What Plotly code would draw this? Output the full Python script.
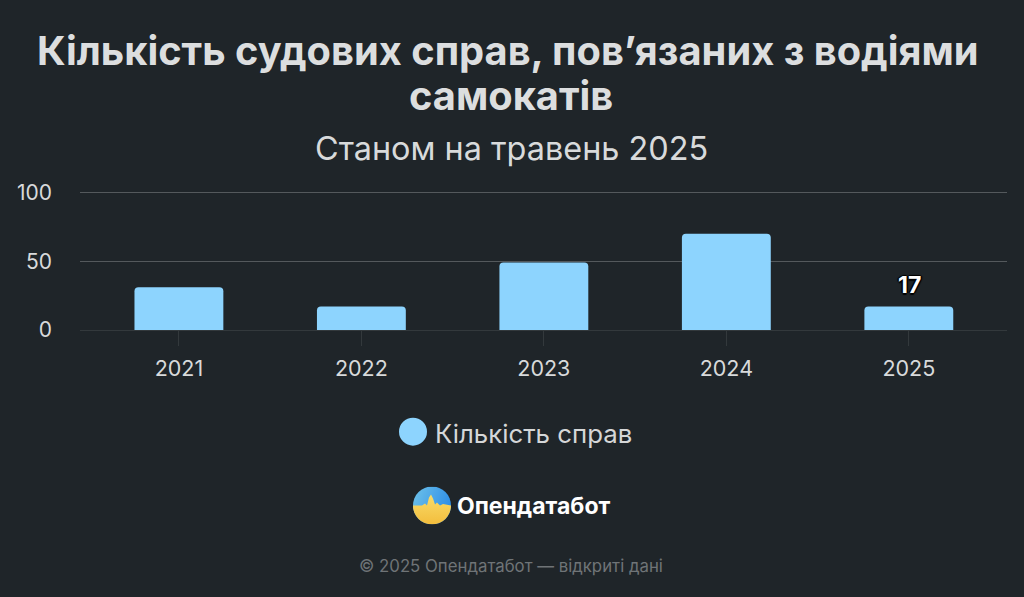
import base64
import plotly.graph_objects as go

years = ["2021", "2022", "2023", "2024", "2025"]
cases = [31, 17, 49, 70, 17]
y_ticks = [0, 50, 100]

title_lines = ["Кількість судових справ, пов’язаних з водіями", "самокатів"]
subtitle = "Станом на травень 2025"
series_name = "Кількість справ"
brand = "Опендатабот"
footer = "© 2025 Опендатабот — відкриті дані"

BG = "#1f2529"
FONT = "Inter"
W, H = 1024, 597
# range goes to 101, the grid line on the very edge of the plot is not drawn
LEFT, RIGHT, TOP, BOTTOM = 80, 1007, 190.6, 330
PLOT_W = RIGHT - LEFT
PLOT_H = BOTTOM - TOP

# logo: blue/yellow circle with a small pulse line
logo_svg = """<svg xmlns="http://www.w3.org/2000/svg" viewBox="0 0 38 38">
<defs>
<linearGradient id="b" x1="0" y1="0" x2="1" y2="0.4"><stop offset="0" stop-color="#6fc3e8"/><stop offset="1" stop-color="#2f8fe8"/></linearGradient>
<linearGradient id="y" x1="0" y1="0" x2="0" y2="1"><stop offset="0" stop-color="#f8dc6a"/><stop offset="1" stop-color="#f3bd3c"/></linearGradient>
<clipPath id="c"><circle cx="19" cy="19" r="19"/></clipPath>
</defs>
<g clip-path="url(#c)">
<rect width="38" height="38" fill="url(#b)"/>
<path d="M0 19 L9 19 L12 17 L14 19 L16 11 L18 8 L20 12 L22 18 L24 16 L27 19 L30 17.5 L38 19 L38 38 L0 38 Z" fill="url(#y)"/>
</g></svg>"""
logo_uri = "data:image/svg+xml;base64," + base64.b64encode(logo_svg.encode()).decode()


def paper_x(px):
    return (px - LEFT) / PLOT_W


def paper_y(px):
    return (BOTTOM - px) / PLOT_H


fig = go.Figure()
fig.add_trace(
    go.Bar(
        x=years,
        y=cases,
        name=series_name,
        width=0.487,
        marker=dict(color="#8dd4fe", cornerradius=4, line_width=0),
        showlegend=False,
    )
)

# only the last bar is labelled
fig.add_annotation(
    x=len(years) - 1,
    y=cases[-1],
    text=f"<b>{cases[-1]}</b>",
    showarrow=False,
    yanchor="bottom",
    yshift=6,
    xshift=1,
    font=dict(
        family=FONT,
        size=23,
        color="#ffffff",
        shadow="1.5px 0 1px #000, -1.5px 0 1px #000, 0 1.5px 1px #000, 0 -1.5px 1px #000",
    ),
)

fig.add_shape(
    type="circle",
    xref="paper",
    yref="paper",
    x0=paper_x(399),
    x1=paper_x(427),
    y0=paper_y(446),
    y1=paper_y(418),
    fillcolor="#8dd4fe",
    line_width=0,
)

texts = [
    (title_lines[0], 508, 50, 39.8, "#dcdedf", "center", True),
    (title_lines[1], 511, 95, 39.8, "#dcdedf", "center", True),
    (subtitle, 511, 148, 32.4, "#d8dadb", "center", False),
    (series_name, 433, 434, 25.8, "#d5d7d8", "left", False),
    (brand, 455, 507, 23, "#ffffff", "left", True),
    (footer, 511, 567, 16.8, "#6f7477", "center", False),
]
for text, x, y, size, color, anchor, bold in texts:
    fig.add_annotation(
        xref="paper",
        yref="paper",
        x=paper_x(x),
        y=paper_y(y),
        text=f"<b>{text}</b>" if bold else text,
        showarrow=False,
        xanchor=anchor,
        yanchor="middle",
        font=dict(family=FONT, size=size, color=color),
    )

fig.add_layout_image(
    source=logo_uri,
    xref="paper",
    yref="paper",
    x=paper_x(413),
    y=paper_y(487),
    sizex=38 / PLOT_W,
    sizey=38 / PLOT_H,
    xanchor="left",
    yanchor="top",
    sizing="stretch",
    layer="above",
)

fig.update_layout(
    width=W,
    height=H,
    paper_bgcolor=BG,
    plot_bgcolor=BG,
    margin=dict(l=LEFT, r=W - RIGHT, t=TOP, b=H - BOTTOM),
    font=dict(family=FONT),
)
fig.update_xaxes(
    type="category",
    range=[-0.542, 4.538],
    ticks="outside",
    ticklen=15,
    tickcolor="#33393c",
    tickwidth=1,
    ticklabelstandoff=4,
    tickfont=dict(size=21.5, color="#d8dadb"),
    showline=True,
    linecolor="#33393c",
    linewidth=1,
    showgrid=False,
)
fig.update_yaxes(
    range=[0, 101],
    tickvals=y_ticks,
    ticklabelstandoff=27,
    tickfont=dict(size=21, color="#d8dadb"),
    gridcolor="#54595c",
    gridwidth=1,
    zeroline=False,
)

fig.write_html(
    "out.html",
    config={"displayModeBar": False},
    post_script="document.body.style.margin='0';document.body.style.background='#1f2529';",
)
